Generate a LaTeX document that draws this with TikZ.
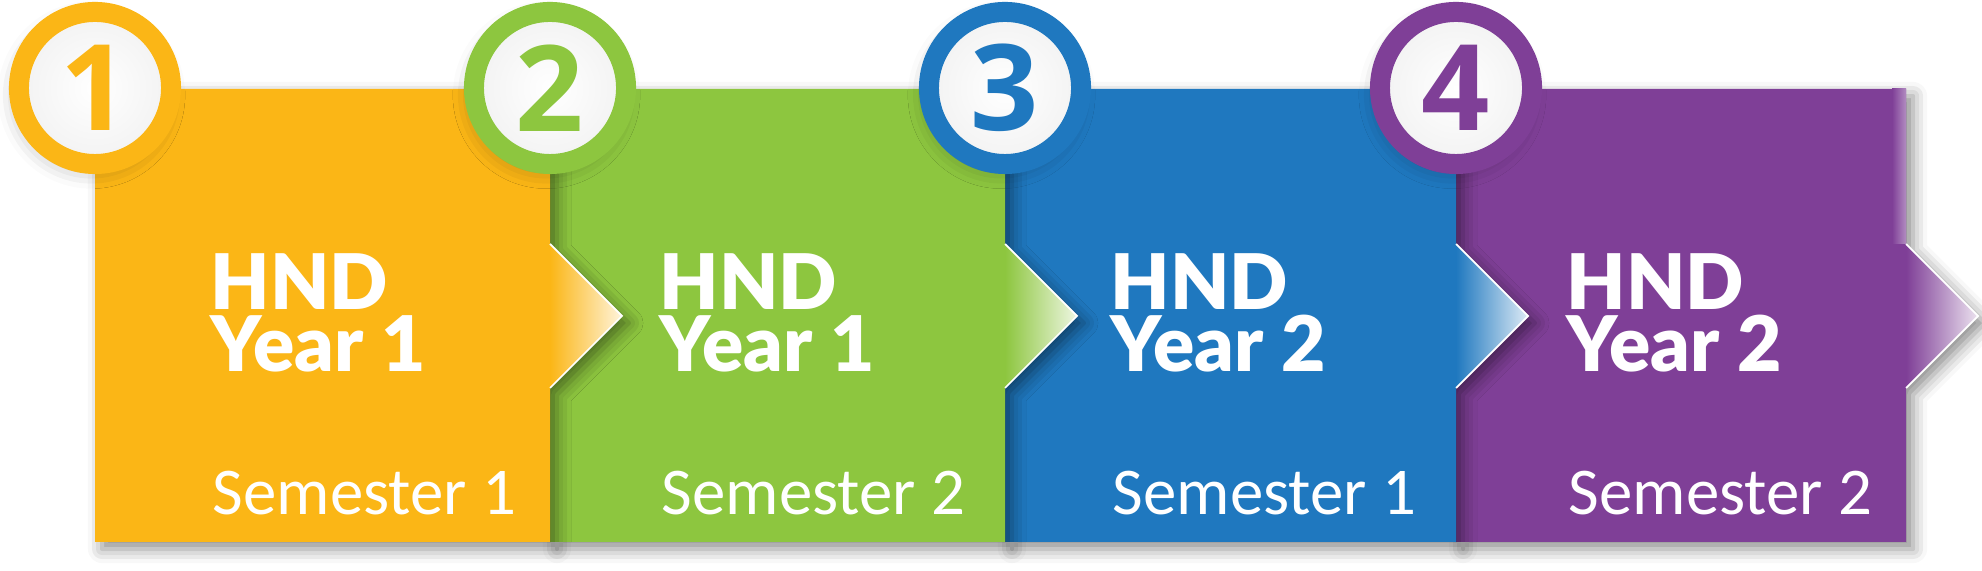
\documentclass[tikz,border=0pt]{standalone}
\usepackage{fontspec}
\setmainfont{Carlito}
\newfontfamily\headfont{Lato Black}
\newfontfamily\numfont{Open Sans Bold}
\usetikzlibrary{shadows.blur}
\definecolor{hndyellow}{HTML}{FBB616}
\definecolor{hndgreen}{HTML}{8DC63F}
\definecolor{hndblue}{HTML}{1F78BF}
\definecolor{hndpurple}{HTML}{7F3F97}
\begin{document}
\begin{tikzpicture}
    [x=0.01cm,y=-0.01cm,
     boxshadow/.style={blur shadow={shadow xshift=2pt,shadow yshift=-2pt,shadow blur radius=4pt,shadow opacity=45}},
     ring/.style={circle,draw=#1,line width=0.2cm,inner sep=0pt,minimum size=1.52cm,text=#1,
       inner color=white,outer color=black!5,font=\numfont\fontsize{34}{34}\selectfont,
       blur shadow={shadow xshift=-1pt,shadow yshift=-2pt,shadow blur radius=5pt,shadow opacity=28}},
     head/.style={anchor=north west,inner sep=0pt,text=white,align=left,font=\headfont\fontsize{21.8}{17.6}\selectfont},
     sem/.style={anchor=base west,inner sep=0pt,text=white,font=\fontsize{19}{19}\selectfont}]
  \useasboundingbox (0,0) rectangle (1982,571);

  % boxes, last one first so each lies over the next
  \foreach \l/\r/\col in {1456/1906/hndpurple,1005/1456/hndblue,550/1005/hndgreen,95/550/hndyellow}{
    \fill[fill=\col,boxshadow] (\l,89) -- (\r,89) -- (\r,244) -- (\r+72,316) -- (\r,388) -- (\r,542) -- (\l,542) -- cycle;
    \shade[left color=\col,right color=\col!15!white] (\r,244) -- (\r+72,316) -- (\r,388) -- cycle;
    \draw[white,line width=0.5pt] (\r,244) -- (\r+72,316) -- (\r,388);
  }
  \shade[left color=hndpurple,right color=hndpurple!60!white] (1892,89) rectangle (1906,244);

  \node[ring=hndyellow] (c1) at (95,88) {1};
  \node[ring=hndgreen] (c2) at (550,88) {2};
  \node[ring=hndblue] (c3) at (1005,88) {3};
  \node[ring=hndpurple] (c4) at (1456,88) {4};

  \node[head] (h1) at (210,253) {HND\\Year 1};
  \node[head] (h2) at (659,253) {HND\\Year 1};
  \node[head] (h3) at (1110,253) {HND\\Year 2};
  \node[head] (h4) at (1566,253) {HND\\Year 2};

  \node[sem] (s1) at (212,515) {Semester 1};
  \node[sem] (s2) at (661,515) {Semester 2};
  \node[sem] (s3) at (1112,515) {Semester 1};
  \node[sem] (s4) at (1568,515) {Semester 2};
\end{tikzpicture}
\end{document}
